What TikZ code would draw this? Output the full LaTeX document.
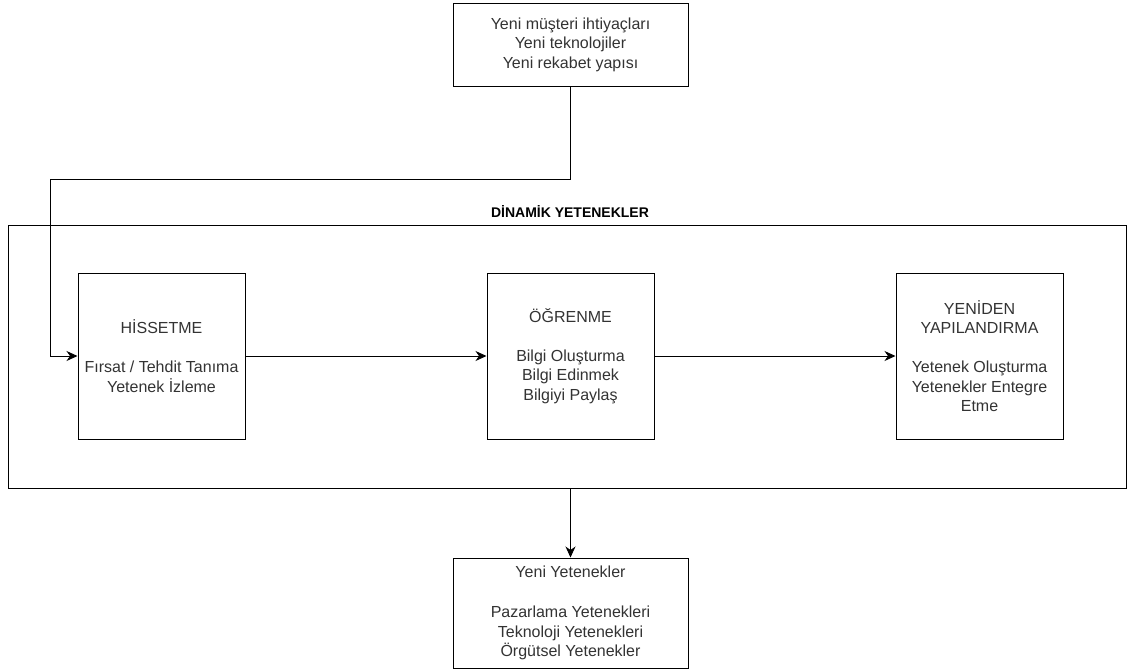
\documentclass[tikz,border=0pt]{standalone}
\usepackage{fontspec}
\setmainfont{Liberation Sans}
\usetikzlibrary{arrows.meta}
\definecolor{txt}{HTML}{333333}
\begin{document}
\begin{tikzpicture}[x=1pt,y=-1pt,
  every node/.style={font=\fontsize{16}{19.5}\selectfont, text=txt, align=center, inner sep=0pt},
  boxed/.style={draw=black, line width=1pt},
  stepbox/.style={boxed, minimum width=167pt, minimum height=166pt},
  link/.style={draw=black, line width=1pt, -{Stealth[length=11pt,width=10pt,inset=3.5pt]}}]
\useasboundingbox (0,0) rectangle (1133,672);
\fill[white] (0,0) rectangle (1133,672);

% drivers and outcome
\node[boxed, minimum width=235pt, minimum height=83pt] (drivers) at (570.5,44.5)
  {Yeni müşteri ihtiyaçları\\Yeni teknolojiler\\Yeni rekabet yapısı};
\node[boxed, minimum width=235pt, minimum height=110pt] (outcome) at (570.5,613)
  {Yeni Yetenekler\\[21pt]Pazarlama Yetenekleri\\Teknoloji Yetenekleri\\Örgütsel Yetenekler};

% dynamic capabilities frame
\node[boxed, minimum width=1118pt, minimum height=263pt] (dyn) at (567,356.5) {};
\node[font=\bfseries\fontsize{14}{17}\selectfont, text=black] (title) at (570,212) {DİNAMİK YETENEKLER};

% the three capabilities
\node[stepbox] (sense) at (161.5,356) {HİSSETME\\[19.5pt]Fırsat / Tehdit Tanıma\\Yetenek İzleme};
\node[stepbox] (learn) at (570.5,356) {ÖĞRENME\\[19.5pt]Bilgi Oluşturma\\Bilgi Edinmek\\Bilgiyi Paylaş};
\node[stepbox] (reconf) at (979.5,356) {YENİDEN\\YAPILANDIRMA\\[19.5pt]Yetenek Oluşturma\\Yetenekler Entegre\\Etme};

% connectors
\coordinate (bend) at (50,179);
\draw[link] (drivers.south) |- (bend) |- (sense.west);
\draw[link] (sense.east) -- (learn.west);
\draw[link] (learn.east) -- (reconf.west);
\draw[link] (outcome.north |- dyn.south) -- (outcome.north);
\end{tikzpicture}
\end{document}
